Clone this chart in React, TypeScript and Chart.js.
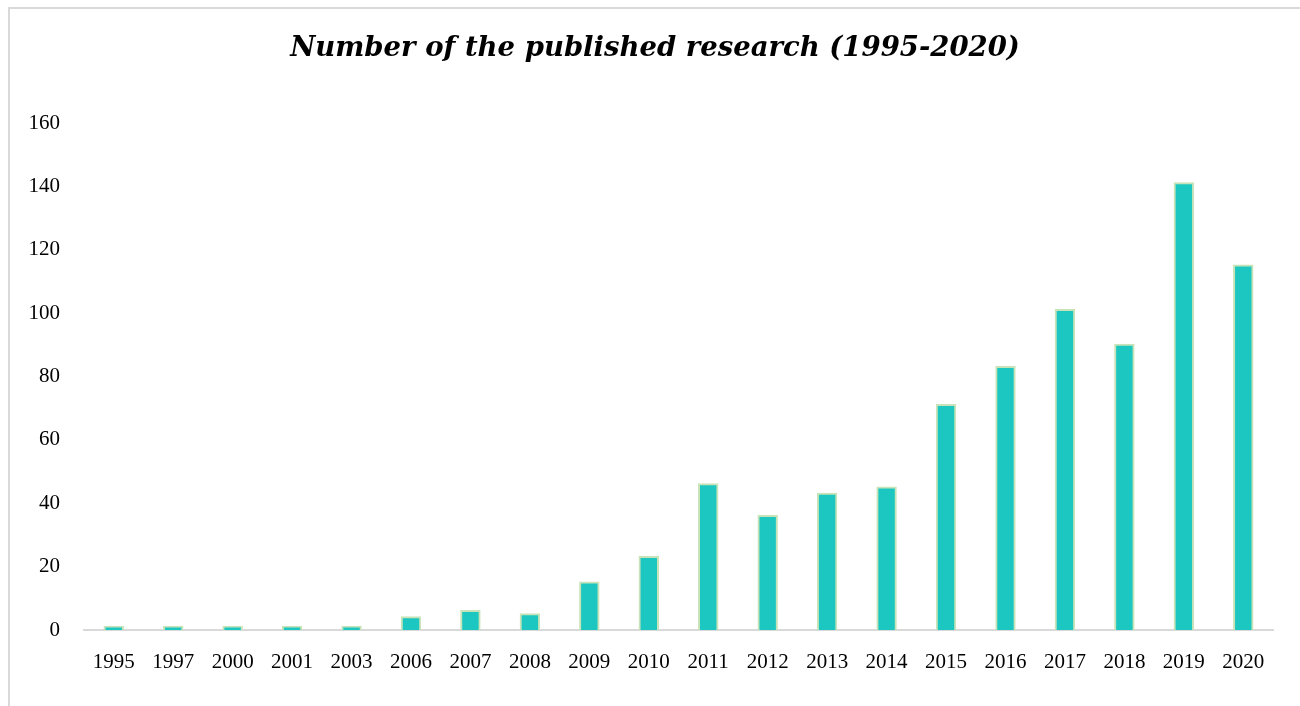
import React, { useEffect, useRef } from "react";
import { Chart, registerables } from "chart.js";

Chart.register(...registerables);

const titleText = "Number of the published research (1995-2020)";
const years = ["1995", "1997", "2000", "2001", "2003", "2006", "2007", "2008", "2009", "2010", "2011", "2012", "2013", "2014", "2015", "2016", "2017", "2018", "2019", "2020"];
const counts = [1, 1, 1, 1, 1, 4, 6, 5, 15, 23, 46, 36, 43, 45, 71, 83, 101, 90, 141, 115];
const yMin = 0;
const yMax = 160;
const yStep = 20;

export default function App() {
  const ref = useRef<HTMLCanvasElement | null>(null);
  useEffect(() => {
    if (!ref.current) return;
    const font = "'Liberation Serif', 'DejaVu Serif', serif";
    const titleFont = "'DejaVu Serif', 'Liberation Serif', serif";
    const chart = new Chart(ref.current, {
      type: "bar",
      data: {
        labels: years,
        datasets: [
          {
            data: counts,
            backgroundColor: "#1CC7C1",
            borderColor: "#C8E3B8",
            borderWidth: 2,
            inflateAmount: 1,
            barPercentage: 0.31,
            categoryPercentage: 1,
          },
        ],
      },
      options: {
        animation: false,
        responsive: false,
        maintainAspectRatio: false,
        layout: { padding: 0 },
        plugins: {
          legend: { display: false },
          tooltip: { enabled: false },
          title: {
            display: true,
            text: titleText,
            color: "#000",
            font: { family: titleFont, size: 27.5, style: "italic", weight: "bold" },
            padding: { top: 23, bottom: 58 },
          },
        },
        scales: {
          x: {
            grid: { display: false, drawTicks: false },
            border: { display: true, color: "#D9D9D9", width: 2 },
            ticks: { color: "#000", font: { family: font, size: 21 }, padding: 20, maxRotation: 0, autoSkip: false },
            afterFit: (s: any) => { s.height = 76; },
          },
          y: {
            min: yMin,
            max: yMax,
            grid: { display: false, drawTicks: false },
            border: { display: false },
            ticks: { stepSize: yStep, color: "#000", font: { family: font, size: 21 }, padding: 24 },
            afterFit: (s: any) => { s.width = 74; },
          },
          yRight: {
            position: "right",
            display: true,
            min: yMin,
            max: yMax,
            grid: { display: false, drawTicks: false },
            border: { display: false },
            ticks: { display: false },
            afterFit: (s: any) => { s.width = 27; },
          },
        },
      },
    });
    return () => chart.destroy();
  }, []);
  return (
    <div style={{ position: "fixed", left: 0, top: 0, width: 1300, height: 706, overflow: "hidden", background: "#fff" }}>
      <div style={{ position: "absolute", left: 8, top: 7, width: 1310, height: 720, borderLeft: "2px solid #D9D9D9", borderTop: "2px solid #D9D9D9" }} />
      <canvas ref={ref} width={1290} height={697} style={{ position: "absolute", left: 10, top: 9, width: 1290, height: 697 }} />
    </div>
  );
}
